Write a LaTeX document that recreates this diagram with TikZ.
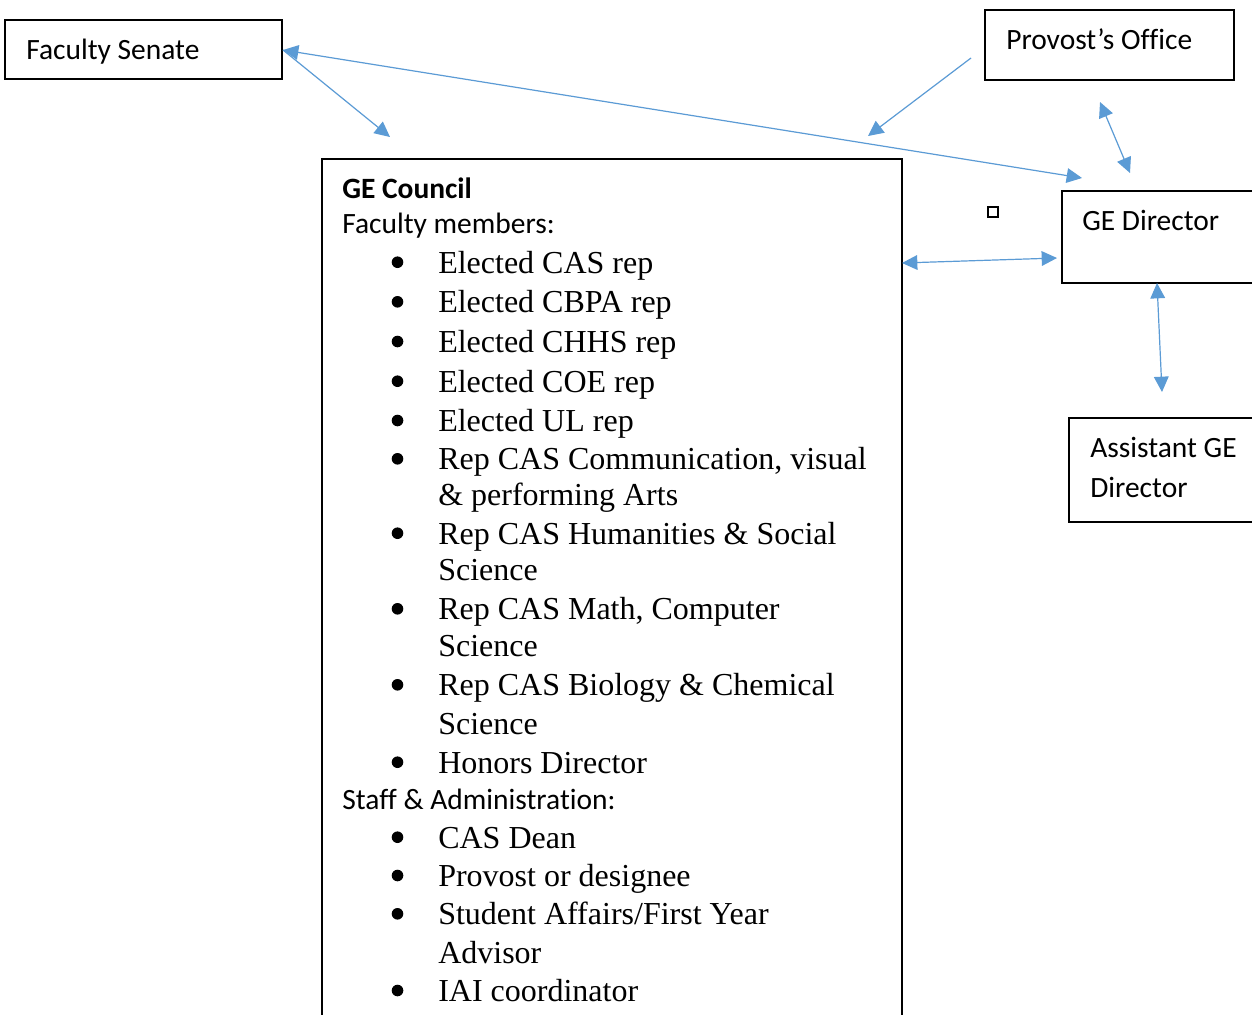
\documentclass[tikz,border=0pt]{standalone}
\usepackage{fontspec}
\setmainfont{Liberation Serif}
\newfontfamily\calibrifont[Ligatures=NoCommon]{Carlito}
\usetikzlibrary{arrows.meta,fit}
\definecolor{geblue}{RGB}{91,155,213}
\tikzset{
  box/.style={draw=black, line width=1.1pt, inner sep=0pt, rectangle},
  cal/.style={font=\calibrifont\fontsize{22.1}{26}\selectfont, anchor=base west, inner sep=0pt},
  tms/.style={font=\fontsize{24}{28}\selectfont, anchor=base west, inner sep=0pt},
  blt/.style={circle, fill=black, inner sep=0pt, minimum size=8.7pt},
  oneway/.style={draw=geblue, line width=0.9pt, -{Triangle[length=11.5pt,width=11pt]}},
  twoway/.style={draw=geblue, line width=0.9pt, {Triangle[length=11.5pt,width=11pt]}-{Triangle[length=11.5pt,width=11pt]}},
}
\begin{document}
\begin{tikzpicture}[x=0.75pt,y=-0.75pt]
\useasboundingbox (0,0) rectangle (1252,1014);
\clip (0,0) rectangle (1252,1014);
\fill[white] (0,0) rectangle (1252,1014);

% boxes
\node[box, fit={(5,20) (282,79)}] (fs) {};
\node[box, fit={(985,10) (1234,80)}] (prov) {};
\node[box, fit={(1062,191) (1270,283)}] (dir) {};
\node[box, fit={(1069,418) (1270,522)}] (asst) {};
\node[box, line width=1.4pt, fit={(322,159) (902,1040)}] (council) {};
\node[draw=black, line width=0.8pt, inner sep=0pt, minimum size=7.5pt] (sq) at (993,212) {};

% box labels
\node[cal] (fst) at (26,59) {Faculty Senate};
\node[cal] (provt) at (1006,49) {Provost’s Office};
\node[cal] (dirt) at (1082,230) {GE Director};
\node[cal] (asst1) at (1090,457) {Assistant GE};
\node[cal] (asst2) at (1090,497) {Director};

% council contents
\node[cal, font=\calibrifont\bfseries\fontsize{22.1}{26}\selectfont] (gec) at (342,198.7) {GE Council};
\node[cal] (fm) at (342,233.7) {Faculty members:};
\node[cal] (sa) at (342,809.3) {Staff \& Administration:};

\foreach \yy/\txt/\b [count=\i] in {
  271.7/{Elected CAS rep}/1,
  311.3/{Elected CBPA rep}/1,
  351/{Elected CHHS rep}/1,
  390.7/{Elected COE rep}/1,
  430/{Elected UL rep}/1,
  468.3/{Rep CAS Communication, visual}/1,
  504/{\& performing Arts}/0,
  542.7/{Rep CAS Humanities \& Social}/1,
  579.3/{Science}/0,
  618.3/{Rep CAS Math, Computer}/1,
  655/{Science}/0,
  694.3/{Rep CAS Biology \& Chemical}/1,
  732.7/{Science}/0,
  771.7/{Honors Director}/1,
  846.7/{CAS Dean}/1,
  885/{Provost or designee}/1,
  923.3/{Student Affairs/First Year}/1,
  961.7/{Advisor}/0,
  1000/{IAI coordinator}/1}
{
  \node[tms] (item\i) at (438,\yy+1.3) {\txt};
  \ifnum\b=1
    \node[blt] (bul\i) at (397.5,\yy-9.5) {};
  \fi
}

% free connector ends
\coordinate (c1) at (1082,178);
\coordinate (c2) at (390,137);
\coordinate (c3) at (971,58);
\coordinate (c4) at (868,136);
\coordinate (c5) at (1100,102);
\coordinate (c6) at (1130,173);
\coordinate (c7) at (1057,258);
\coordinate (c8) at (1162,392);
\coordinate (fse) at (283,50);
\coordinate (cne) at (902,263);
\coordinate (dirs) at (1157,283);

% connectors
\draw[twoway] (fse) -- (c1);
\draw[oneway] (fse) -- (c2);
\draw[oneway] (c3) -- (c4);
\draw[twoway] (c5) -- (c6);
\draw[twoway] (cne) -- (c7);
\draw[twoway] (dirs) -- (c8);
\end{tikzpicture}
\end{document}
